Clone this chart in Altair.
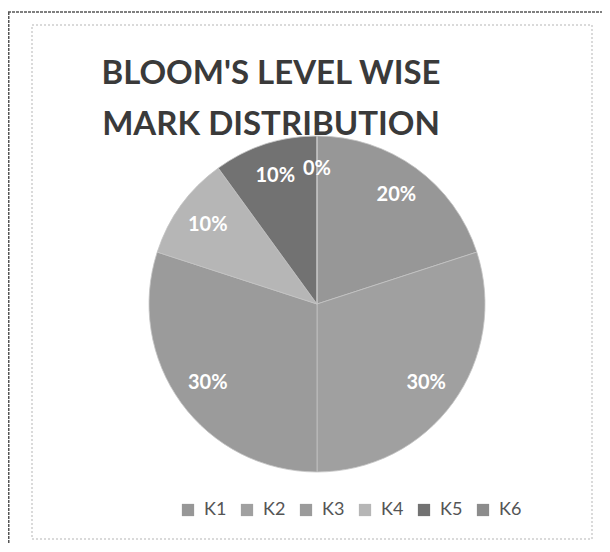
import altair as alt
import pandas as pd

LEVELS = ["K1", "K2", "K3", "K4", "K5", "K6"]
SHARES = [20, 30, 30, 10, 10, 0]
LABELS = ["20%", "30%", "30%", "10%", "10%", "0%"]
COLORS = ["#979797", "#a0a0a0", "#9b9b9b", "#b6b6b6", "#727272", "#8c8c8c"]
TITLE_LINES = ["BLOOM'S LEVEL WISE", "MARK DISTRIBUTION"]

W, H = 594, 536
CX, CY, R = 309, 296, 168

df = pd.DataFrame({"level": LEVELS, "share": SHARES, "label": LABELS,
                   "idx": list(range(len(LEVELS)))})

color = alt.Color(
    "level:N",
    scale=alt.Scale(domain=LEVELS, range=COLORS),
    sort=LEVELS,
    legend=alt.Legend(
        orient="none", direction="horizontal", legendX=171, legendY=493,
        title=None, symbolType="square", symbolSize=150, symbolStrokeWidth=0,
        labelFontSize=18, labelFont="Lato", labelColor="#555555",
        labelOffset=7, columnPadding=11, padding=0,
    ),
)

base = alt.Chart(df).encode(
    theta=alt.Theta("share:Q", stack=True),
    order=alt.Order("idx:Q"),
)

pie = base.mark_arc(radius=R, stroke="#c4c4c4", strokeWidth=0.8).encode(
    color=color, x=alt.value(CX), y=alt.value(CY)
)

labels = base.mark_text(
    radius=135, fontSize=20, fontWeight="bold", font="Lato", color="white"
).encode(text="label:N", x=alt.value(CX), y=alt.value(CY))

tdf = pd.DataFrame({"t": TITLE_LINES, "line": [0, 1]})
title = alt.Chart(tdf).mark_text(
    fontSize=33, fontWeight="bold", font="Lato", color="#3a3a3a",
    align="center", baseline="middle"
).encode(
    text="t:N",
    x=alt.value(263),
    y=alt.Y("line:Q", scale=alt.Scale(domain=[0, 1], range=[66, 117]), axis=None),
)

fdf = pd.DataFrame({"x": [24]})
frame = alt.Chart(fdf).mark_rect(
    fill=None, stroke="#b5b5b5", strokeWidth=1, strokeDash=[2, 2]
).encode(
    x=alt.value(24), x2=alt.value(584), y=alt.value(17), y2=alt.value(531)
)

outer_top = alt.Chart(fdf).mark_rule(color="#555555", strokeWidth=1.5, strokeDash=[3, 1]).encode(
    x=alt.value(0), x2=alt.value(W), y=alt.value(4)
)
outer_left = alt.Chart(fdf).mark_rule(color="#555555", strokeWidth=1.5, strokeDash=[3, 1]).encode(
    x=alt.value(0.75), y=alt.value(4), y2=alt.value(H)
)

chart = alt.layer(frame, outer_top, outer_left, pie, labels, title).resolve_scale(
    y="independent"
).properties(
    width=W, height=H, autosize=alt.AutoSizeParams(type="none"), padding=0,
    background="white",
).configure_view(stroke=None)

chart.save("out.html", embed_options={"renderer": "svg", "actions": False})
